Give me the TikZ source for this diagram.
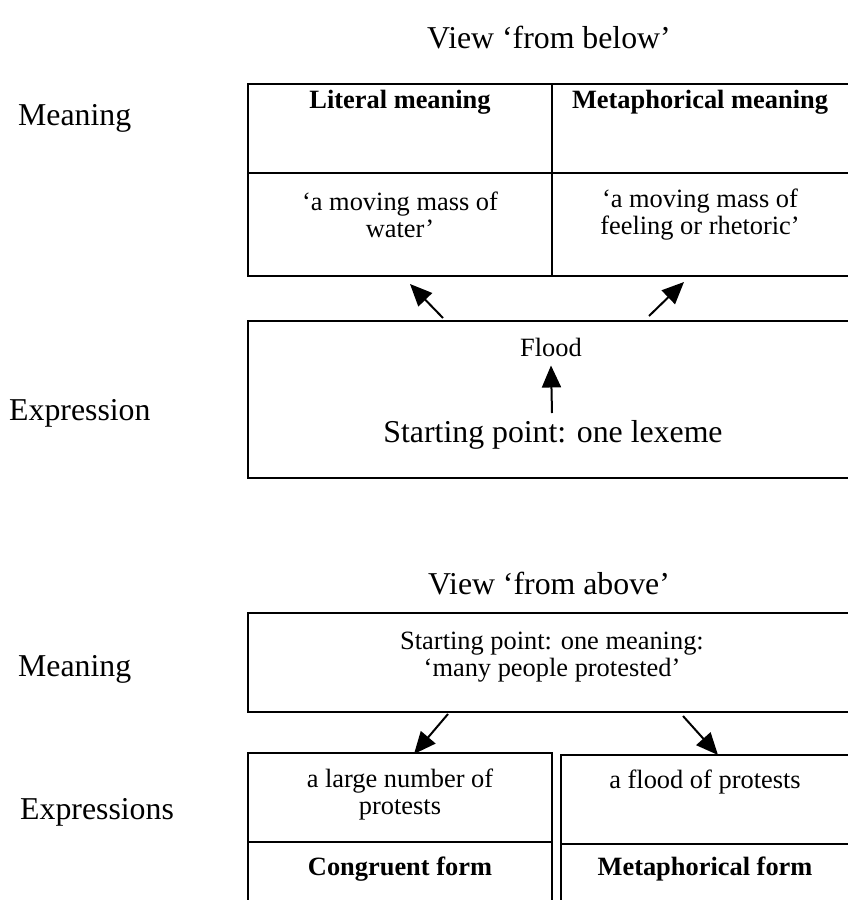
\documentclass[tikz,border=0pt]{standalone}
\usepackage{fontspec}
\setmainfont{Liberation Serif}
\usetikzlibrary{arrows.meta}
\begin{document}
\begin{tikzpicture}[x=1pt,y=-1pt,
  big/.style={font=\fontsize{31.8}{36}\selectfont, inner sep=0pt},
  small/.style={font=\fontsize{26.4}{27}\selectfont, inner sep=0pt, align=center},
  hdr/.style={font=\fontsize{26.4}{27}\selectfont\bfseries, inner sep=0pt},
  frame/.style={line width=2.4pt},
  arr/.style={line width=2pt, -{Triangle[length=22pt,width=19pt]}}]
\useasboundingbox (0,0) rectangle (848,900);
\clip (0,0) rectangle (848,900);

% ---------- View from below ----------
\node[big, anchor=base] (t1) at (549,48) {View ‘from below’};
\node[big, anchor=base west] (m1) at (18,125) {Meaning};
\node[big, anchor=base west] (e1) at (9,420) {Expression};

% top table
\draw[frame] (860,84) -- (248,84) -- (248,276) -- (860,276);
\draw[frame] (552,84) -- (552,276);
\draw[frame] (248,173) -- (860,173);
\node[hdr, anchor=base] (lit) at (400,108) {Literal meaning};
\node[hdr, anchor=base] (met) at (700,108) {Metaphorical meaning};
\node[small] (litm) at (400,215) {‘a moving mass of\\water’};
\node[small] (metm) at (700,215) {‘a moving mass of\\feeling or rhetoric’};

% expression box
\draw[frame] (860,321) -- (248,321) -- (248,478) -- (860,478);
\node[small, anchor=base] (flood) at (551,356) {Flood};
\node[big, anchor=base] (sp1) at (553,442) {Starting point: one lexeme};

\coordinate (a1s) at (443,318);
\coordinate (a1e) at (410,284);
\coordinate (a2s) at (649,316);
\coordinate (a2e) at (684,282);
\coordinate (a3s) at (552,413);
\draw[arr] (a1s) -- (a1e);
\draw[arr] (a2s) -- (a2e);
\draw[arr] (a3s) -- ([yshift=-9pt]flood.south);

% ---------- View from above ----------
\node[big, anchor=base] (t2) at (549,594) {View ‘from above’};
\node[big, anchor=base west] (m2) at (18,676) {Meaning};
\node[big, anchor=base west] (e2) at (20,819) {Expressions};

\draw[frame] (860,613) -- (248,613) -- (248,712) -- (860,712);
\node[small] (spm) at (552,657) {Starting point: one meaning:\\‘many people protested’};

% bottom boxes
\draw[frame] (248,910) -- (248,753) -- (552,753) -- (552,910);
\draw[frame] (248,842) -- (552,842);
\draw[frame] (561,910) -- (561,755) -- (860,755);
\draw[frame] (561,844) -- (860,844);
\node[small] (lg) at (400,795) {a large number of\\protests};
\node[small, anchor=base] (fl) at (705,788) {a flood of protests};
\node[hdr, anchor=base] (cf) at (400,875) {Congruent form};
\node[hdr, anchor=base] (mf) at (705,875) {Metaphorical form};

\coordinate (b1s) at (448,714);
\coordinate (b1e) at (414,754);
\coordinate (b2s) at (683,716);
\coordinate (b2e) at (718,755);
\draw[arr] (b1s) -- (b1e);
\draw[arr] (b2s) -- (b2e);
\end{tikzpicture}
\end{document}
